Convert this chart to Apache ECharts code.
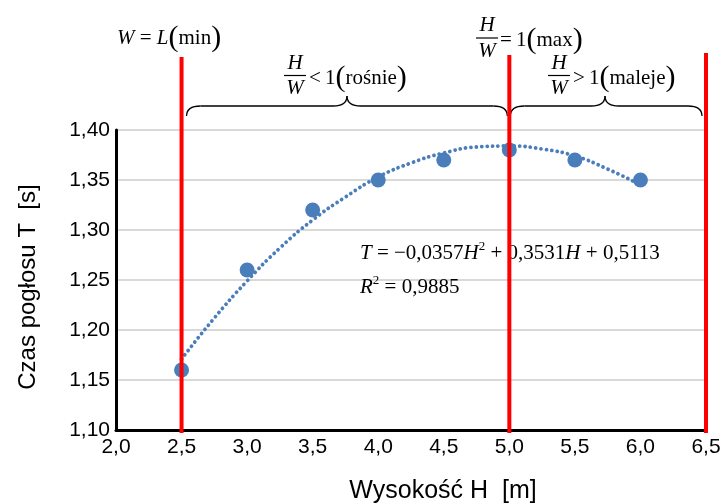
<!DOCTYPE html>
<html><head><meta charset="utf-8">
<script src="https://cdn.jsdelivr.net/npm/echarts@6/dist/echarts.min.js"></script>
<style>html,body{margin:0;padding:0;background:#fff}#c{width:728px;height:504px}</style>
</head><body><div id="c"></div>
<script>
// Measured points
const heights = [2.5, 3.0, 3.5, 4.0, 4.5, 5.0, 5.5, 6.0];
const times = [1.16, 1.26, 1.32, 1.35, 1.37, 1.38, 1.37, 1.35];
// Trend line values
const trendH = [2.5, 2.75, 3.0, 3.25, 3.5, 3.75, 4.0, 4.25, 4.5, 4.75, 5.0, 5.25, 5.5, 5.75, 6.0];
const trendT = [1.171, 1.212, 1.249, 1.282, 1.310, 1.333, 1.353, 1.367, 1.377, 1.383, 1.384, 1.381, 1.374, 1.361, 1.345];
// Red boundary lines
const redLines = [2.5, 5.0, 6.5];
const xTicks = [2.0, 6.5, 0.5];   // min, max, step
const yTicks = [1.10, 1.40, 0.05];

const SERIF = '"Liberation Serif","Times New Roman",serif';
const SANS = '"Liberation Sans",Arial,sans-serif';
const BLUE = '#4a7ebb';

const chart = echarts.init(document.getElementById('c'), null, {renderer: 'canvas'});
const redTops = [57, 55, 53];

const richMath = {
  i: {fontFamily: SERIF, fontStyle: 'italic', fontSize: 21, color: '#000'},
  n: {fontFamily: SERIF, fontSize: 21, color: '#000'},
  p: {fontFamily: SERIF, fontSize: 30, color: '#000'},
  sup: {fontFamily: SERIF, fontSize: 13, color: '#000', padding: [0, 0, 12, 0]}
};

chart.setOption({
  animation: false,
  grid: {left: 116, right: 22, top: 130, bottom: 74, outerBoundsMode: 'none', containLabel: false},
  xAxis: {
    type: 'value', min: xTicks[0], max: xTicks[1], interval: xTicks[2],
    axisLine: {lineStyle: {color: '#000', width: 3}},
    axisTick: {show: false},
    splitLine: {show: false},
    axisLabel: {color: '#000', fontFamily: SANS, fontSize: 21, margin: 7,
      formatter: v => v.toFixed(1).replace('.', ',')},
    name: 'Wysokość H  [m]', nameLocation: 'middle', nameGap: 49,
    nameTextStyle: {color: '#000', fontFamily: SANS, fontSize: 25, padding: [0, 0, 0, 64]}
  },
  yAxis: {
    type: 'value', min: yTicks[0], max: yTicks[1], interval: yTicks[2],
    axisLine: {show: true, lineStyle: {color: '#000', width: 3}},
    axisTick: {show: false},
    splitLine: {lineStyle: {color: '#d9d9d9', width: 2}},
    axisLabel: {color: '#000', fontFamily: SANS, fontSize: 21, margin: 6,
      formatter: v => v.toFixed(2).replace('.', ',')},
    name: 'Czas pogłosu T  [s]', nameLocation: 'middle', nameGap: 76, nameRotate: 90,
    nameTextStyle: {color: '#000', fontFamily: SANS, fontSize: 24, padding: [0, 14, 0, 0]}
  },
  series: [
    {
      type: 'line', data: trendH.map((h, i) => [h, trendT[i]]), smooth: true,
      showSymbol: false, z: 3,
      lineStyle: {color: BLUE, width: 3.8, type: [0.01, 5.4], cap: 'round'}
    },
    {
      type: 'scatter', data: heights.map((h, i) => [h, times[i]]),
      symbol: 'circle', symbolSize: 15, z: 4,
      itemStyle: {color: BLUE, opacity: 1}
    },
    {
      type: 'custom', data: redLines.map(v => [v]), clip: false, z: 10,
      renderItem: (params, api) => {
        const p = api.coord([api.value(0), yTicks[0]]);
        return {type: 'line', shape: {x1: p[0], y1: redTops[params.dataIndex], x2: p[0], y2: p[1] + 3},
          style: {stroke: '#ff0000', lineWidth: 4}};
      }
    }
  ]
});

const braceStyle = {fill: null, stroke: '#000', lineWidth: 1.3};
function brace(x0, x1, xm, yEnd, yH, yTip) {
  const r = 14;
  const bz = (ax, ay, bx, by, cx, cy) => ({type: 'bezierCurve', z: 1,
    shape: {x1: ax, y1: ay, x2: bx, y2: by, cpx1: cx, cpy1: cy}, style: braceStyle});
  const ln = (ax, bx) => ({type: 'line', z: 1, shape: {x1: ax, y1: yH, x2: bx, y2: yH}, style: braceStyle});
  return [
    bz(x0, yEnd, x0 + r, yH, x0, yH),
    ln(x0 + r, xm - r),
    bz(xm - r, yH, xm, yTip, xm, yH),
    bz(xm, yTip, xm + r, yH, xm, yH),
    ln(xm + r, x1 - r),
    bz(x1 - r, yH, x1, yEnd, x1, yH)
  ];
}
const px = v => chart.convertToPixel({xAxisIndex: 0}, v);
const a = px(redLines[0]) + 5, b = px(redLines[1]) - 2, c = px(redLines[1]) + 1, d = px(redLines[2]) - 4;

function txt(x, y, text, align) {
  return {type: 'text', z: 1, style: {x, y, text, textAlign: align || 'left', textVerticalAlign: 'middle', rich: richMath,
    font: '21px ' + SERIF, fill: '#000'}};
}
function frac(xc, yH, yLine, yW, halfW) {
  return [
    txt(xc, yH, '{i|H}', 'center'),
    {type: 'line', z: 1, shape: {x1: xc - halfW, y1: yLine, x2: xc + halfW, y2: yLine}, style: {stroke: '#000', lineWidth: 1.2}},
    txt(xc, yW, '{i|W}', 'center')
  ];
}

chart.setOption({
  graphic: [
    ...brace(a, b, 347, 116, 106, 96),
    ...brace(c, d, 605, 116, 106, 96),
    txt(117, 38, '{i|W} {n|=} {i|L}{p|(}{n|min}{p|)}'),
    ...frac(487, 25, 38, 51, 11),
    txt(500, 40, '{n|=\u20091}{p|(}{n|max}{p|)}'),
    ...frac(295, 63, 75.5, 88, 11),
    txt(309, 78, '{n|<\u20091}{p|(}{n|rośnie}{p|)}'),
    ...frac(559, 63, 75.5, 88, 11),
    txt(573, 78, '{n|>\u20091}{p|(}{n|maleje}{p|)}'),
    txt(360, 253, '{i|T} {n|= −0,0357}{i|H}{sup|2} {n|+ 0,3531}{i|H} {n|+ 0,5113}'),
    txt(360, 287, '{i|R}{sup|2} {n|= 0,9885}')
  ]
});
</script></body></html>
